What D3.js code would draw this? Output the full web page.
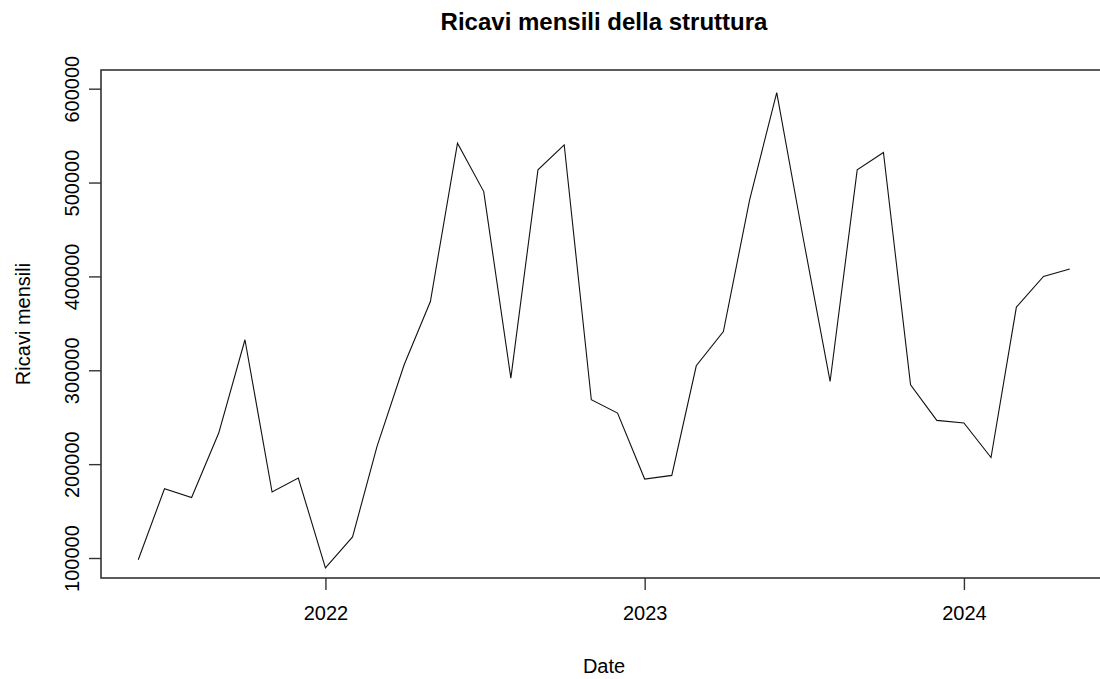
<!DOCTYPE html>
<html>
<head>
<meta charset="utf-8">
<script src="https://cdn.jsdelivr.net/npm/d3@7"></script>
<style>
  body { margin: 0; background: #fff; }
  svg { display: block; font-family: "Liberation Sans", Arial, sans-serif; }
</style>
</head>
<body>
<div class="container"></div>
<script>
// monthly data
const months = [
  '2021-06', '2021-07', '2021-08', '2021-09', '2021-10', '2021-11', '2021-12',
  '2022-01', '2022-02', '2022-03', '2022-04', '2022-05', '2022-06', '2022-07',
  '2022-08', '2022-09', '2022-10', '2022-11', '2022-12', '2023-01', '2023-02',
  '2023-03', '2023-04', '2023-05', '2023-06', '2023-07', '2023-08', '2023-09',
  '2023-10', '2023-11', '2023-12', '2024-01', '2024-02', '2024-03', '2024-04',
  '2024-05',
];
const ricavi = [
  98200, 173800, 164500, 233100, 332500, 170300, 185200,
  89400, 122400, 218900, 305900, 373300, 542000, 490400,
  291700, 513500, 540200, 268600, 254400, 184100, 188000,
  304800, 341300, 481600, 595900, 442000, 288100, 513500,
  532000, 284600, 246600, 243800, 207100, 367300, 399900,
  407800,
];
const yTicks = [100000, 200000, 300000, 400000, 500000, 600000];
const xTicks = ['2022-01', '2023-01', '2024-01'];
const xTickLabels = ['2022', '2023', '2024'];
const yDomain = [78700, 619900];

const W = 1100, H = 679;
const plot = { left: 101, right: 1107, top: 70, bottom: 578 };

const parseMonth = d3.utcParse('%Y-%m');
const data = months.map((m, i) => ({ date: parseMonth(m), value: ricavi[i] }));

// R style: pad the date range by 4% on each side
const ext = d3.extent(data, d => d.date);
const pad = (ext[1] - ext[0]) * 0.04;
const x = d3.scaleUtc()
  .domain([new Date(+ext[0] - pad), new Date(+ext[1] + pad)])
  .range([plot.left, plot.right]);
const y = d3.scaleLinear().domain(yDomain).range([plot.bottom, plot.top]);

const svg = d3.select('.container').append('svg')
  .attr('width', W)
  .attr('height', H);

// the line
const valueline = d3.line()
  .x(d => x(d.date))
  .y(d => y(d.value));

svg.append('path')
  .datum(data)
  .attr('fill', 'none')
  .attr('stroke', '#111')
  .attr('stroke-width', 1.1)
  .attr('d', valueline);

// box
svg.append('rect')
  .attr('x', plot.left)
  .attr('y', plot.top)
  .attr('width', plot.right - plot.left)
  .attr('height', plot.bottom - plot.top)
  .attr('fill', 'none')
  .attr('stroke', '#333')
  .attr('stroke-width', 1.6);

// x axis
const xAxis = svg.append('g')
  .attr('transform', `translate(0,${plot.bottom})`)
  .call(d3.axisBottom(x)
    .tickValues(xTicks.map(parseMonth))
    .tickFormat((d, i) => xTickLabels[i])
    .tickSize(12)
    .tickPadding(16));
xAxis.select('.domain').remove();
xAxis.selectAll('line').attr('stroke', '#333').attr('stroke-width', 1.4);
xAxis.selectAll('text')
  .attr('fill', '#000')
  .style('font-size', '20px')
  .style('font-family', '"Liberation Sans", Arial, sans-serif');

// y axis, labels turned like R's default
const yAxis = svg.append('g')
  .attr('transform', `translate(${plot.left},0)`)
  .call(d3.axisLeft(y)
    .tickValues(yTicks)
    .tickFormat(d3.format('d'))
    .tickSize(12));
yAxis.select('.domain').remove();
yAxis.selectAll('line').attr('stroke', '#333').attr('stroke-width', 1.4);
yAxis.selectAll('text')
  .attr('x', 0)
  .attr('y', -22)
  .attr('dy', 0)
  .attr('transform', 'rotate(-90)')
  .style('text-anchor', 'middle')
  .attr('fill', '#000')
  .style('font-size', '20px')
  .style('font-family', '"Liberation Sans", Arial, sans-serif');

// titles
const cx = (plot.left + plot.right) / 2;
svg.append('text')
  .attr('x', cx)
  .attr('y', 30)
  .attr('text-anchor', 'middle')
  .style('font-size', '24px')
  .style('font-weight', 'bold')
  .text('Ricavi mensili della struttura');

svg.append('text')
  .attr('x', cx)
  .attr('y', 673)
  .attr('text-anchor', 'middle')
  .style('font-size', '20px')
  .text('Date');

svg.append('text')
  .attr('transform', `translate(30,${(plot.top + plot.bottom) / 2}) rotate(-90)`)
  .attr('text-anchor', 'middle')
  .style('font-size', '20px')
  .text('Ricavi mensili');
</script>
</body>
</html>
